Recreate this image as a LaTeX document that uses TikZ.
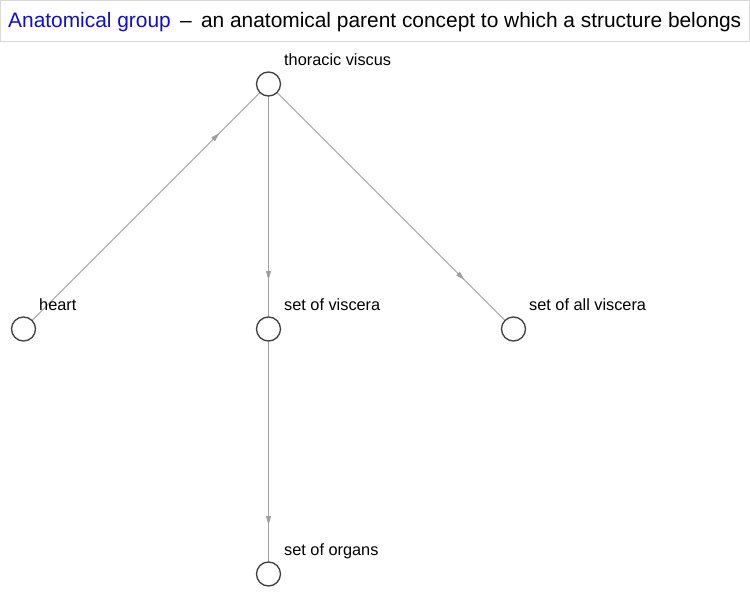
\documentclass[tikz,border=0pt]{standalone}
\usepackage{fontspec}
\setmainfont{Liberation Sans}
\usetikzlibrary{arrows.meta,decorations.markings}
\definecolor{titleblue}{HTML}{1010CC}
\definecolor{edgegray}{HTML}{A0A0A0}
\definecolor{nodegray}{HTML}{404040}
\tikzset{
  vert/.style={circle,draw=nodegray,line width=1.3pt,fill=white,minimum size=24pt,inner sep=0pt},
  lbl/.style={anchor=base west,inner sep=0pt,font=\fontsize{16.3}{19}\selectfont},
  edge/.style={draw=edgegray,line width=0.9pt,postaction={decorate},
    decoration={markings,mark=at position 0.8 with {\arrow[edgegray]{Triangle[length=9pt,width=5pt]}}}}
}
\begin{document}
\begin{tikzpicture}[x=1pt,y=-1pt]
\useasboundingbox (0,0) rectangle (750,599);
\fill[white] (0,0) rectangle (750,599);
\draw[draw=black!15,line width=0.8pt] (0.5,0.5) rectangle (749.5,41);
\node[anchor=base west,inner sep=0pt,font=\fontsize{20.9}{24}\selectfont] (title) at (8,27.5)
  {\textcolor{titleblue}{Anatomical group} \,–\, an anatomical parent concept to which a structure belongs};
\coordinate (pTV) at (268.5,84);
\coordinate (pH) at (23.5,329);
\coordinate (pSV) at (268.5,329);
\coordinate (pSAV) at (513.5,329);
\coordinate (pSO) at (268.5,574);
\draw[edge] (pH) -- (pTV);
\draw[edge] (pTV) -- (pSV);
\draw[edge] (pTV) -- (pSAV);
\draw[edge] (pSV) -- (pSO);
\node[vert] (tv) at (pTV) {};
\node[vert] (h) at (pH) {};
\node[vert] (sv) at (pSV) {};
\node[vert] (sav) at (pSAV) {};
\node[vert] (so) at (pSO) {};
\node[lbl] (ltv) at (284,65.5) {thoracic viscus};
\node[lbl] (lh) at (39,310.5) {heart};
\node[lbl] (lsv) at (284,310.5) {set of viscera};
\node[lbl] (lsav) at (529,310.5) {set of all viscera};
\node[lbl] (lso) at (284,555.5) {set of organs};
\end{tikzpicture}
\end{document}
